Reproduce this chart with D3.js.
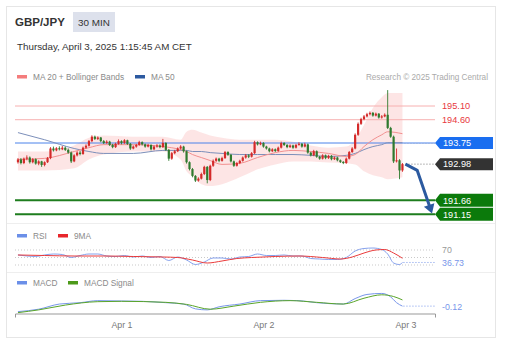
<!DOCTYPE html>
<html>
<head>
<meta charset="utf-8">
<script src="https://cdn.jsdelivr.net/npm/d3@7"></script>
<style>
  body { margin: 0; background: #fff; }
  svg { font-family: "Liberation Sans", Arial, sans-serif; }
</style>
</head>
<body>
<div id="chart"></div>
<script>
const width = 514;
const height = 352;
const plotLeft = 15;
const plotRight = 435;

// candle i (1..131) = 30 min bars starting Mar 31 06:00 + i*30min
const T0 = Date.UTC(2025, 2, 31, 6, 0);
const HALF = 30 * 60 * 1000;
const tAt = i => new Date(T0 + i * HALF);

const firstOpen = 193.05;
const closes = [
  193.15, 193.02, 193.18, 193.22, 193.05, 193.16, 193.00, 193.08, 192.95, 193.05,
  193.20, 193.55, 193.48, 193.56, 193.52, 193.58, 193.50, 193.40, 193.08, 193.30,
  193.40, 193.35, 193.58, 193.65, 193.82, 193.98, 193.90, 193.95, 193.82, 193.75,
  193.80, 193.68, 193.60, 193.72, 193.82, 193.75, 193.85, 193.72, 193.55, 193.62,
  193.68, 193.78, 193.70, 193.62, 193.68, 193.52, 193.62, 193.66, 193.60, 193.75,
  193.50, 193.18, 193.38, 193.45, 193.55, 193.62, 193.45, 193.05, 192.80, 192.55,
  192.38, 192.45, 192.62, 192.88, 192.40, 192.92, 193.10, 193.18, 193.10, 193.20,
  193.42, 193.32, 193.08, 192.92, 193.02, 193.10, 193.22, 193.30, 193.25, 193.38,
  193.78, 193.70, 193.75, 193.62, 193.55, 193.45, 193.52, 193.46, 193.58, 193.75,
  193.68, 193.60, 193.66, 193.58, 193.68, 193.72, 193.62, 193.70, 193.40, 193.30,
  193.45, 193.25, 193.18, 193.30, 193.20, 193.28, 193.16, 193.22, 193.12, 193.06,
  193.02, 193.18, 193.42, 193.55, 194.05, 194.45, 194.62, 194.72, 194.80, 194.85,
  194.75, 194.82, 194.68, 194.72, 194.78, 194.30, 193.98, 193.08, 193.12, 192.75,
  192.98
];
const highs = [
  193.20, 193.20, 193.22, 193.30, 193.26, 193.20, 193.19, 193.12, 193.10, 193.08,
  193.24, 193.60, 193.62, 193.60, 193.63, 193.64, 193.62, 193.55, 193.44, 193.34,
  193.45, 193.46, 193.62, 193.70, 193.86, 194.03, 194.02, 193.99, 193.97, 193.86,
  193.85, 193.83, 193.72, 193.76, 193.88, 193.85, 193.89, 193.87, 193.75, 193.66,
  193.72, 193.83, 193.81, 193.73, 193.72, 193.70, 193.66, 193.71, 193.70, 193.90,
  193.78, 193.53, 193.42, 193.50, 193.59, 193.67, 193.65, 193.48, 193.08, 192.84,
  192.58, 192.50, 192.67, 192.92, 192.91, 192.96, 193.15, 193.22, 193.21, 193.25,
  193.46, 193.45, 193.35, 193.11, 193.06, 193.14, 193.26, 193.35, 193.34, 193.42,
  193.83, 193.81, 193.80, 193.78, 193.65, 193.58, 193.56, 193.55, 193.62, 193.80,
  193.78, 193.71, 193.70, 193.69, 193.72, 193.78, 193.75, 193.76, 193.73, 193.43,
  193.50, 193.48, 193.28, 193.34, 193.33, 193.32, 193.31, 193.26, 193.25, 193.15,
  193.09, 193.22, 193.46, 193.60, 194.10, 194.50, 194.67, 194.77, 194.85, 194.90,
  194.88, 194.86, 194.84, 194.77, 194.83, 195.68, 194.34, 194.02, 193.55, 193.16,
  193.02
];
const lows = [
  193.00, 192.97, 192.98, 193.12, 193.00, 193.01, 192.96, 192.94, 192.88, 192.90,
  193.02, 193.16, 193.44, 193.45, 193.48, 193.49, 193.46, 193.36, 193.02, 193.05,
  193.26, 193.30, 193.32, 193.54, 193.62, 193.78, 193.86, 193.86, 193.78, 193.71,
  193.72, 193.64, 193.56, 193.57, 193.69, 193.70, 193.72, 193.68, 193.50, 193.52,
  193.58, 193.65, 193.66, 193.58, 193.59, 193.48, 193.49, 193.58, 193.56, 193.57,
  193.46, 193.10, 193.14, 193.34, 193.42, 193.51, 193.40, 193.00, 192.75, 192.50,
  192.33, 192.34, 192.42, 192.58, 192.28, 192.36, 192.88, 193.06, 193.05, 193.07,
  193.17, 193.28, 193.04, 192.88, 192.89, 192.98, 193.07, 193.18, 193.20, 193.22,
  193.35, 193.66, 193.67, 193.58, 193.51, 193.41, 193.42, 193.42, 193.43, 193.55,
  193.64, 193.56, 193.57, 193.54, 193.55, 193.65, 193.58, 193.59, 193.36, 193.26,
  193.27, 193.21, 193.14, 193.15, 193.16, 193.17, 193.12, 193.13, 193.08, 193.02,
  192.98, 192.99, 193.15, 193.39, 193.52, 194.01, 194.41, 194.58, 194.68, 194.76,
  194.71, 194.72, 194.64, 194.64, 194.69, 194.26, 193.94, 193.02, 193.04, 192.43,
  192.70
];

// moving averages and bollinger bands, read at these bars
const lineIdx = [1, 10, 20, 25, 30, 40, 50, 56, 58, 60, 63, 66, 70, 76, 82, 88, 94, 100, 106, 112, 115, 118, 121, 124, 126, 131];
const ma20 = [193.15, 193.19, 193.44, 193.58, 193.69, 193.69, 193.62, 193.51, 193.44, 193.33, 193.22, 193.11, 192.97, 193.01, 193.22, 193.40, 193.48, 193.44, 193.37, 193.26, 193.33, 193.62, 193.87, 194.05, 194.16, 194.09];
const ma50 = [194.13, 193.87, 193.55, 193.44, 193.37, 193.37, 193.48, 193.48, 193.48, 193.44, 193.44, 193.40, 193.37, 193.33, 193.33, 193.33, 193.33, 193.30, 193.26, 193.30, 193.37, 193.51, 193.62, 193.69, 193.76, 193.76];
const bbUpper = [193.44, 193.44, 193.66, 193.94, 194.02, 193.98, 193.98, 193.87, 194.16, 194.23, 194.13, 194.02, 193.94, 193.87, 193.87, 193.87, 193.80, 193.66, 193.58, 193.62, 193.87, 194.41, 195.03, 195.42, 195.57, 195.57];
const bbLower = [192.75, 192.75, 192.83, 193.15, 193.33, 193.44, 193.44, 193.15, 192.72, 192.54, 192.25, 192.18, 192.25, 192.50, 192.79, 192.97, 193.08, 193.08, 193.04, 193.01, 192.97, 192.72, 192.57, 192.50, 192.43, 192.50];

const resistLevels = [195.10, 194.60];
const pivotLevel = 193.75;
const lastPrice = 192.98;
const supportLevels = [191.66, 191.15];

// forecast arrow: [bar, price]
const arrowPts = [[132, 192.98], [136, 192.75], [141, 191.18]];

const rsiIdx = [1, 4, 7, 10, 13, 16, 19, 22, 25, 28, 31, 34, 37, 40, 43, 46, 49, 52, 55, 58, 61, 64, 67, 70, 73, 76, 79, 82, 85, 88, 91, 94, 97, 100, 103, 106, 109, 112, 115, 118, 121, 124, 126, 128, 130, 131];
const rsiVals = [56.7, 54, 52.7, 56.7, 59.3, 58, 50, 55.3, 59.3, 59.3, 54, 52.7, 55.3, 51.3, 54, 50, 52.7, 42, 51.3, 43.3, 31.3, 38, 48.7, 48.7, 46, 51.3, 52.7, 59.3, 55.3, 55.3, 56.7, 54, 54, 47.3, 46, 44.7, 44.7, 50, 67.3, 74, 75.3, 71.3, 59.3, 35.3, 31.3, 36.73];
const rsiMaIdx = [1, 10, 20, 30, 40, 50, 55, 60, 65, 70, 75, 80, 88, 96, 104, 110, 114, 118, 122, 125, 128, 131];
const rsiMaVals = [56.7, 55.3, 54, 54, 52.7, 51.3, 50, 43.3, 35.3, 40.7, 47.3, 50, 52.7, 54, 50, 46, 51.3, 62, 70, 71.3, 62, 48];
const rsiLevels = [70, 50, 30];
const rsiLast = 36.73;

const macdIdx = [1, 8, 15, 22, 28, 36, 43, 51, 57, 61, 65, 69, 76, 83, 91, 96, 102, 111, 115, 119, 124, 127, 129, 131];
const macdVals = [-0.28, -0.21, -0.06, -0.02, 0.04, 0.03, 0.02, -0.02, -0.06, -0.20, -0.23, -0.14, -0.06, 0.04, 0.05, 0.04, -0.02, -0.06, 0.10, 0.22, 0.25, 0.15, -0.02, -0.12];
const sigIdx = [1, 8, 17, 28, 36, 51, 58, 66, 74, 83, 93, 102, 111, 118, 124, 128, 131];
const sigVals = [-0.31, -0.23, -0.09, 0.01, 0.02, -0.01, -0.07, -0.21, -0.12, -0.01, 0.04, -0.01, -0.06, 0.11, 0.21, 0.16, 0.06];
const macdLast = -0.12;

const xTicks = [Date.UTC(2025, 3, 1), Date.UTC(2025, 3, 2), Date.UTC(2025, 3, 3)].map(d => new Date(d));

const candles = closes.map((c, k) => ({
  t: tAt(k + 1),
  o: k === 0 ? firstOpen : closes[k - 1],
  h: highs[k], l: lows[k], c: c
}));
const series = (idx, vals) => idx.map((i, k) => ({ t: tAt(i), v: vals[k] }));

const svg = d3.select("#chart").append("svg")
  .attr("width", width)
  .attr("height", height);

// card
svg.append("rect")
  .attr("x", 6.5).attr("y", 6.5)
  .attr("width", 489).attr("height", 331)
  .attr("fill", "#fff").attr("stroke", "#e6e6e6");

svg.append("text").attr("x", 15).attr("y", 26)
  .attr("font-size", 11.5).attr("font-weight", "bold").attr("fill", "#333")
  .text("GBP/JPY");
svg.append("rect").attr("x", 73).attr("y", 12).attr("width", 42).attr("height", 20)
  .attr("fill", "#dde1ec");
svg.append("text").attr("x", 78).attr("y", 25.5)
  .attr("font-size", 9.9).attr("fill", "#333").text("30 MIN");
svg.append("text").attr("x", 17).attr("y", 50)
  .attr("font-size", 9.8).attr("fill", "#333")
  .text("Thursday, April 3, 2025 1:15:45 AM CET");

function legend(y, items) {
  items.forEach(it => {
    svg.append("rect").attr("x", it.x).attr("y", y - 2).attr("width", 10).attr("height", 3.5)
      .attr("fill", it.color);
    svg.append("text").attr("x", it.x + 16).attr("y", y + 3)
      .attr("font-size", 8.3).attr("fill", "#8a8a8a").text(it.label);
  });
}
legend(77, [{ x: 17, color: "#f47c7c", label: "MA 20 + Bollinger Bands" },
            { x: 135, color: "#2c5aa0", label: "MA 50" }]);
svg.append("text").attr("x", 488).attr("y", 80).attr("text-anchor", "end")
  .attr("font-size", 8.2).attr("fill", "#aaa").text("Research \u00a9 2025 Trading Central");

// separators
[223, 272].forEach(y => svg.append("line")
  .attr("x1", 7).attr("x2", 495).attr("y1", y + 0.5).attr("y2", y + 0.5)
  .attr("stroke", "#eeeeee"));

const x = d3.scaleUtc()
  .domain([new Date(T0), new Date(Date.UTC(2025, 3, 3, 5))])
  .range([plotLeft, plotRight]);
const y = d3.scaleLinear().domain([191.15, 195.10]).range([214.3, 106]);

// bollinger band
svg.append("path")
  .datum(lineIdx.map((i, k) => ({ t: tAt(i), u: bbUpper[k], l: bbLower[k] })))
  .attr("fill", "#fcdada").attr("opacity", 0.7)
  .attr("d", d3.area().curve(d3.curveMonotoneX)
    .x(d => x(d.t)).y0(d => y(d.l)).y1(d => y(d.u)));

// level lines
resistLevels.forEach(p => svg.append("line")
  .attr("x1", plotLeft).attr("x2", plotRight).attr("y1", y(p)).attr("y2", y(p))
  .attr("stroke", "#f7b0b0").attr("stroke-width", 1));
svg.append("line")
  .attr("x1", plotLeft).attr("x2", plotRight).attr("y1", y(pivotLevel)).attr("y2", y(pivotLevel))
  .attr("stroke", "#4a82ea").attr("stroke-width", 1);
supportLevels.forEach(p => svg.append("line")
  .attr("x1", plotLeft).attr("x2", plotRight).attr("y1", y(p)).attr("y2", y(p))
  .attr("stroke", "#1e7d1e").attr("stroke-width", 2));

const lineGen = sc => d3.line().curve(d3.curveMonotoneX).x(d => x(d.t)).y(d => sc(d.v));

svg.append("path").datum(series(lineIdx, ma50))
  .attr("fill", "none").attr("stroke", "#7c8fba").attr("stroke-width", 1)
  .attr("d", lineGen(y));
svg.append("path").datum(series(lineIdx, ma20))
  .attr("fill", "none").attr("stroke", "#f29090").attr("stroke-width", 1)
  .attr("d", lineGen(y));

// candles
const cg = svg.append("g");
cg.selectAll("line").data(candles).join("line")
  .attr("x1", d => x(d.t)).attr("x2", d => x(d.t))
  .attr("y1", d => y(d.h)).attr("y2", d => y(d.l))
  .attr("stroke", d => d.c >= d.o ? "#d42a2a" : "#2f7a2f").attr("stroke-width", 0.9);
cg.selectAll("rect").data(candles).join("rect")
  .attr("x", d => x(d.t) - 1.1).attr("width", 2.2)
  .attr("y", d => y(Math.max(d.o, d.c)))
  .attr("height", d => Math.max(1, Math.abs(y(d.o) - y(d.c))))
  .attr("fill", d => d.c >= d.o ? "#d42a2a" : "#2f7a2f");

const lastX = x(candles[candles.length - 1].t);

// dotted extensions
svg.append("line").attr("x1", lastX + 2).attr("x2", plotRight)
  .attr("y1", y(pivotLevel) + 0.5).attr("y2", y(pivotLevel) + 0.5)
  .attr("stroke", "#9ab0d8").attr("stroke-dasharray", "1,2");
svg.append("line").attr("x1", lastX + 3).attr("x2", plotRight)
  .attr("y1", y(lastPrice)).attr("y2", y(lastPrice))
  .attr("stroke", "#777").attr("stroke-dasharray", "1,2");

// forecast arrow
const ap = arrowPts.map(d => [x(tAt(d[0])), y(d[1])]);
svg.append("path").attr("d", d3.line()(ap.slice(0, -1).concat([[
  ap[ap.length - 1][0] - (ap[2][0] - ap[1][0]) * 0.12,
  ap[ap.length - 1][1] - (ap[2][1] - ap[1][1]) * 0.12]])))
  .attr("fill", "none").attr("stroke", "#2c5aa0").attr("stroke-width", 3)
  .attr("stroke-linejoin", "round");
{
  const [x1, y1] = ap[1], [x2, y2] = ap[2];
  const ang = Math.atan2(y2 - y1, x2 - x1);
  const len = 9, half = 5.5;
  const bx = x2 - Math.cos(ang) * len, by = y2 - Math.sin(ang) * len;
  const px = -Math.sin(ang) * half, py = Math.cos(ang) * half;
  svg.append("path")
    .attr("d", `M${x2},${y2}L${bx + px},${by + py}L${bx - px},${by - py}Z`)
    .attr("fill", "#2c5aa0");
}

// price tags
function tag(p, fill, h) {
  const cy = y(p);
  svg.append("path")
    .attr("d", `M${plotRight},${cy}L${plotRight + 5},${cy - h / 2}L493,${cy - h / 2}L493,${cy + h / 2}L${plotRight + 5},${cy + h / 2}Z`)
    .attr("fill", fill);
  svg.append("text").attr("x", 443).attr("y", cy + 3.3)
    .attr("font-size", 9.2).attr("fill", "#fff").text(p.toFixed(2));
}
resistLevels.forEach(p => svg.append("text").attr("x", 442).attr("y", y(p) + 3.3)
  .attr("font-size", 9.2).attr("fill", "#e8383d").text(p.toFixed(2)));
tag(pivotLevel, "#1a6ef0", 12);
tag(lastPrice, "#333333", 12);
supportLevels.forEach(p => tag(p, "#0b7a0b", 13));

// RSI panel
legend(236, [{ x: 17, color: "#6b8fe8", label: "RSI" },
             { x: 58, color: "#e8262b", label: "9MA" }]);
const yr = d3.scaleLinear().domain([30, 70]).range([265, 250]);
rsiLevels.forEach(v => svg.append("line")
  .attr("x1", plotLeft).attr("x2", plotRight).attr("y1", yr(v)).attr("y2", yr(v))
  .attr("stroke", "#bbb").attr("stroke-width", 0.8).attr("stroke-dasharray", "1,2"));
svg.append("path").datum(series(rsiIdx, rsiVals))
  .attr("fill", "none").attr("stroke", "#7896ea").attr("stroke-width", 0.9)
  .attr("d", lineGen(yr));
svg.append("path").datum(series(rsiMaIdx, rsiMaVals))
  .attr("fill", "none").attr("stroke", "#ea3a3a").attr("stroke-width", 1)
  .attr("d", lineGen(yr));
svg.append("line").attr("x1", lastX + 1).attr("x2", plotRight)
  .attr("y1", yr(rsiLast)).attr("y2", yr(rsiLast))
  .attr("stroke", "#7896ea").attr("stroke-dasharray", "1,2");
svg.append("text").attr("x", 442).attr("y", yr(70) + 3)
  .attr("font-size", 8.8).attr("fill", "#999").text("70");
svg.append("text").attr("x", 442).attr("y", yr(rsiLast) + 3.5)
  .attr("font-size", 8.8).attr("fill", "#7896ea").text(rsiLast.toFixed(2));

// MACD panel
legend(283, [{ x: 17, color: "#6b8fe8", label: "MACD" },
             { x: 68, color: "#4d9a1a", label: "MACD Signal" }]);
const ym = d3.scaleLinear().domain([-0.35, 0.35]).range([314, 290]);
svg.append("path").datum(series(macdIdx, macdVals))
  .attr("fill", "none").attr("stroke", "#7896ea").attr("stroke-width", 1)
  .attr("d", lineGen(ym));
svg.append("path").datum(series(sigIdx, sigVals))
  .attr("fill", "none").attr("stroke", "#5aa52a").attr("stroke-width", 1)
  .attr("d", lineGen(ym));
svg.append("line").attr("x1", lastX + 1).attr("x2", plotRight)
  .attr("y1", ym(macdLast)).attr("y2", ym(macdLast))
  .attr("stroke", "#7896ea").attr("stroke-dasharray", "1,2");
svg.append("text").attr("x", 442).attr("y", ym(macdLast) + 3.5)
  .attr("font-size", 8.8).attr("fill", "#7896ea").text(macdLast.toFixed(2));

// x axis
const ax = svg.append("g")
  .attr("transform", "translate(0,313.5)")
  .call(d3.axisBottom(x).tickValues(xTicks).tickSizeInner(0).tickSizeOuter(4)
    .tickPadding(8).tickFormat(d3.utcFormat("%b %-d")));
ax.select(".domain").attr("stroke", "#999");
ax.selectAll("text").attr("font-size", 8.8).attr("fill", "#777")
  .attr("font-family", "Liberation Sans, Arial, sans-serif");
</script>
</body>
</html>
